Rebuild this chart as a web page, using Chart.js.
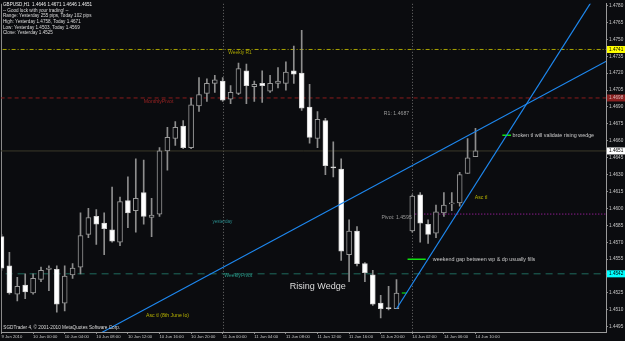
<!DOCTYPE html>
<html>
<head>
<meta charset="utf-8">
<script src="https://cdn.jsdelivr.net/npm/chart.js@4.4.0/dist/chart.umd.min.js"></script>
<style>
  html, body { margin: 0; padding: 0; background: #0b0c0f; }
  #wrap { width: 625px; height: 341px; }
</style>
</head>
<body>
<div id="wrap"><canvas id="chart" width="625" height="341"></canvas></div>
<script>
// GBPUSD H1 bars, bar 0 = 9 Jun 2010 20:00
const opens  = [1.4575, 1.4549, 1.4524, 1.4532, 1.4525, 1.4537, 1.4546, 1.4546, 1.4516, 1.4541,
                1.4548, 1.4577, 1.4593, 1.4587, 1.4581, 1.4570, 1.4607, 1.4598, 1.4614, 1.4592,
                1.4595, 1.4651, 1.4662, 1.4673, 1.4654, 1.4691, 1.4702, 1.4711, 1.4713, 1.4697,
                1.4702, 1.4722, 1.4708, 1.4711, 1.4704, 1.4711, 1.4711, 1.4722, 1.4720, 1.4690,
                1.4662, 1.4678, 1.4637, 1.4635, 1.4559, 1.4580, 1.4551, 1.4541, 1.4516, 1.4512,
                1.4511, 1.4525, 1.4580, 1.4612, 1.4586, 1.4578, 1.4596, 1.4604, 1.4605, 1.4631,
                1.4646];
const highs  = [1.4577, 1.4561, 1.4539, 1.4542, 1.4542, 1.4548, 1.4549, 1.4549, 1.4549, 1.4551,
                1.4596, 1.4600, 1.4599, 1.4596, 1.4619, 1.4610, 1.4628, 1.4644, 1.4643, 1.4609,
                1.4654, 1.4672, 1.4677, 1.4678, 1.4698, 1.4716, 1.4715, 1.4718, 1.4716, 1.4709,
                1.4729, 1.4728, 1.4713, 1.4722, 1.4718, 1.4725, 1.4730, 1.4744, 1.4758, 1.4710,
                1.4686, 1.4680, 1.4659, 1.4644, 1.4590, 1.4584, 1.4552, 1.4545, 1.4523, 1.4531,
                1.4537, 1.4525, 1.4612, 1.4614, 1.4590, 1.4603, 1.4614, 1.4614, 1.4632, 1.4662,
                1.4671];
const lows   = [1.4545, 1.4524, 1.4518, 1.4520, 1.4524, 1.4535, 1.4527, 1.4508, 1.4509, 1.4538,
                1.4542, 1.4574, 1.4568, 1.4559, 1.4570, 1.4567, 1.4583, 1.4579, 1.4586, 1.4575,
                1.4593, 1.4634, 1.4656, 1.4653, 1.4653, 1.4686, 1.4695, 1.4703, 1.4695, 1.4693,
                1.4701, 1.4693, 1.4695, 1.4694, 1.4703, 1.4707, 1.4705, 1.4711, 1.4687, 1.4658,
                1.4654, 1.4630, 1.4628, 1.4554, 1.4535, 1.4549, 1.4535, 1.4514, 1.4503, 1.4510,
                1.4511, 1.4525, 1.4579, 1.4570, 1.4569, 1.4574, 1.4593, 1.4598, 1.4602, 1.4631,
                1.4646];
const closes = [1.4547, 1.4525, 1.4531, 1.4526, 1.4538, 1.4545, 1.4547, 1.4515, 1.4540, 1.4547,
                1.4576, 1.4592, 1.4586, 1.4582, 1.4571, 1.4606, 1.4596, 1.4609, 1.4593, 1.4594,
                1.4651, 1.4663, 1.4672, 1.4654, 1.4692, 1.4701, 1.4711, 1.4714, 1.4696, 1.4703,
                1.4724, 1.4709, 1.4710, 1.4709, 1.4711, 1.4713, 1.4721, 1.4719, 1.4689, 1.4663,
                1.4679, 1.4638, 1.4636, 1.4562, 1.4580, 1.4551, 1.4543, 1.4515, 1.4511, 1.4511,
                1.4525, 1.4525, 1.4611, 1.4587, 1.4577, 1.4597, 1.4603, 1.4605, 1.4630, 1.4645,
                1.4651];

// axis ticks
const xTickBars   = [0, 4, 8, 12, 16, 20, 24, 28, 32, 36, 40, 44, 48, 52, 56, 60];
const xTickLabels = ['9 Jun 2010', '10 Jun 00:00', '10 Jun 04:00', '10 Jun 08:00', '10 Jun 12:00',
                     '10 Jun 16:00', '10 Jun 20:00', '11 Jun 00:00', '11 Jun 04:00', '11 Jun 08:00',
                     '11 Jun 12:00', '11 Jun 16:00', '11 Jun 20:00', '14 Jun 02:00', '14 Jun 06:00',
                     '14 Jun 10:00'];
const yTicks = [1.4495, 1.4510, 1.4525, 1.4540, 1.4555, 1.4570, 1.4585, 1.4600, 1.4615, 1.4630,
                1.4645, 1.4660, 1.4675, 1.4690, 1.4705, 1.4720, 1.4735, 1.4750, 1.4765, 1.4780];

// day separators (bar index)
const separators = [28, 52];

// horizontal levels: weekly R1, monthly pivot, bid, daily pivot, weekly pivot
const levelPrices = [1.4741, 1.4698, 1.4651, 1.4595, 1.4542];
const levelStart  = [-1, -1, -1, 52, -1];

// trend lines [bar, price]
const ascLong  = [[12.7, 1.4490], [78, 1.4736]];
const ascShort = [[50, 1.4511], [76, 1.4798]];

// short green marks [bar, price]
const markWedge = [[63.4, 1.4665], [64.5, 1.4665]];
const markGap   = [[51.4, 1.4555], [53.7, 1.4555]];

// chart notes [bar, price, text]
const notes = [
  [28.7, 1.4738, 'Weekly R1'],
  [18.0, 1.4695, 'MonthlyPivot'],
  [28.2, 1.4540, 'WeeklyPivot'],
  [26.7, 1.4588, 'yesterday'],
  [48.4, 1.4684, 'R1: 1.4687'],
  [48.1, 1.4592, 'Pivot: 1.4595'],
  [59.9, 1.4610, 'Asc tl'],
  [18.3, 1.4505, 'Asc tl (8th June lo)'],
  [64.7, 1.4665, 'broken tl will validate rising wedge'],
  [54.6, 1.4555, 'weekend gap between wp & dp usually fills'],
  [36.5, 1.4531, 'Rising Wedge']
];

const headerLines = [
  'GBPUSD,H1  1.4646 1.4671 1.4646 1.4651',
  '-- Good luck with your trading! --',
  'Range: Yesterday 255 pips, Today 102 pips',
  'High: Yesterday 1.4758, Today 1.4671',
  'Low: Yesterday 1.4503, Today 1.4569',
  'Close: Yesterday 1.4525'
];

const BG = '#0b0c0f';
const FONT = "'Liberation Sans', Arial, sans-serif";
const noteStyle = {
  'Weekly R1': ['#a8a400', 4.9],
  'MonthlyPivot': ['#9a2222', 5.2],
  'WeeklyPivot': ['#2a9a8a', 5.1],
  'yesterday': ['#2a8c8c', 4.6],
  'R1: 1.4687': ['#9a9a9a', 5.2],
  'Pivot: 1.4595': ['#9a9a9a', 5.2],
  'Asc tl': ['#b8b400', 5.2],
  'Asc tl (8th June lo)': ['#b8b400', 5.2],
  'broken tl will validate rising wedge': ['#c8c8c8', 5.4],
  'weekend gap between wp & dp usually fills': ['#c8c8c8', 5.4],
  'Rising Wedge': ['#dcdcdc', 9]
};
const levelStyle = [
  { color: '#a8a400', dash: [4, 2, 1, 2], box: '#ffff00', text: '#000000' },
  { color: '#8a1c1c', dash: [4, 3], box: '#8a2020', text: '#d8b8b8' },
  { color: '#3c3a2a', dash: [], box: '#ffffff', text: '#000000' },
  { color: '#c020c0', dash: [1, 2], box: null },
  { color: '#1f6b5e', dash: [7, 5], box: '#00ffff', text: '#000000' }
];

const wickData = opens.map((o, i) => ({ x: i, y: [lows[i], highs[i]] }));
const bodyData = opens.map((o, i) => {
  const lo = Math.min(o, closes[i]), hi = Math.max(o, closes[i]);
  // a flat bar gets a hairline body so it stays visible
  return { x: i, y: lo === hi ? [lo - 0.00004, hi + 0.00004] : [lo, hi] };
});
const bodyFill = opens.map((o, i) => closes[i] < o ? '#ffffff' : (closes[i] > o ? BG : '#00e000'));
const bodyEdge = opens.map((o, i) => closes[i] < o ? '#d0d0d0' : (closes[i] > o ? '#9a9a9a' : '#00e000'));
const toPts = arr => arr.map(p => ({ x: p[0], y: p[1] }));

const datasets = [];
levelPrices.forEach((p, i) => {
  datasets.push({
    type: 'line', data: [{ x: levelStart[i], y: p }, { x: 80, y: p }],
    borderColor: levelStyle[i].color, borderWidth: 1, borderDash: levelStyle[i].dash,
    pointRadius: 0, order: 3
  });
});
datasets.push({
  type: 'bar', data: wickData, backgroundColor: '#8e8e8e', borderWidth: 0,
  barThickness: 1, grouped: false, order: 2
});
datasets.push({
  type: 'bar', data: bodyData, backgroundColor: bodyFill, borderColor: bodyEdge,
  borderWidth: 1, borderSkipped: false, barThickness: 5, grouped: false, order: 1
});
[ascLong, ascShort].forEach(t => datasets.push({
  type: 'line', data: toPts(t), borderColor: '#1e88f0', borderWidth: 1.2, pointRadius: 0, order: 0
}));
[markWedge, markGap].forEach(t => datasets.push({
  type: 'line', data: toPts(t), borderColor: '#10e010', borderWidth: 1.5, pointRadius: 0, order: 0
}));

const decor = {
  id: 'decor',
  beforeDraw(chart) {
    const ctx = chart.ctx;
    ctx.save();
    ctx.fillStyle = BG;
    ctx.fillRect(0, 0, chart.width, chart.height);
    ctx.restore();
  },
  beforeDatasetsDraw(chart) {
    const { ctx, chartArea: a, scales: { x } } = chart;
    ctx.save();
    ctx.strokeStyle = '#6c6c6c';
    ctx.lineWidth = 1;
    ctx.setLineDash([1, 2]);
    separators.forEach(b => {
      const px = Math.round(x.getPixelForValue(b)) + 0.5;
      ctx.beginPath(); ctx.moveTo(px, a.top); ctx.lineTo(px, a.bottom); ctx.stroke();
    });
    ctx.setLineDash([]);
    ctx.strokeStyle = '#8a8a8a';
    ctx.beginPath(); ctx.moveTo(a.left + 0.5, a.top); ctx.lineTo(a.left + 0.5, a.bottom); ctx.stroke();
    ctx.restore();
  },
  afterDatasetsDraw(chart) {
    const { ctx, scales: { x, y } } = chart;
    ctx.save();
    ctx.textBaseline = 'middle';
    ctx.textAlign = 'left';
    notes.forEach(n => {
      const st = noteStyle[n[2]];
      ctx.fillStyle = st[0];
      ctx.font = st[1] + 'px ' + FONT;
      ctx.fillText(n[2], x.getPixelForValue(n[0]), y.getPixelForValue(n[1]));
    });
    ctx.restore();
  },
  afterDraw(chart) {
    const { ctx, chartArea: a, scales: { y } } = chart;
    ctx.save();
    ctx.textBaseline = 'middle';
    ctx.textAlign = 'left';
    // price boxes on the right axis
    ctx.font = '4.7px ' + FONT;
    levelPrices.forEach((p, i) => {
      const st = levelStyle[i];
      if (!st.box) return;
      const py = y.getPixelForValue(p);
      ctx.fillStyle = st.box;
      ctx.fillRect(a.right + 1, py - 3.5, chart.width - a.right - 1, 7);
      ctx.fillStyle = st.text;
      ctx.fillText(p.toFixed(4), a.right + 3, py);
    });
    // comment block
    ctx.font = '4.6px ' + FONT;
    headerLines.forEach((t, i) => {
      ctx.fillStyle = i === 0 ? '#f0f0f0' : '#dcdcdc';
      ctx.fillText(t, 3, 4.8 + i * 5.65);
    });
    ctx.font = '4.7px ' + FONT;
    ctx.fillStyle = '#dcdcdc';
    ctx.fillText('SGDTrader 4, \u00a9 2001-2010 MetaQuotes Software Corp.', 3.3, 328);
    ctx.restore();
  }
};

new Chart(document.getElementById('chart'), {
  type: 'bar',
  data: { datasets },
  options: {
    responsive: false,
    animation: false,
    devicePixelRatio: 1,
    layout: { padding: { left: 1, right: 0, top: 0, bottom: 0 } },
    plugins: { legend: { display: false }, tooltip: { enabled: false } },
    scales: {
      x: {
        type: 'linear', min: -0.063, max: 76.52, offset: false,
        afterBuildTicks: s => { s.ticks = xTickBars.map(v => ({ value: v })); },
        afterFit: s => { s.height = 9; },
        grid: { drawOnChartArea: false, tickLength: 2, color: '#8a8a8a', offset: false },
        border: { color: '#9a9a9a' },
        ticks: {
          color: '#c8c8c8', font: { family: FONT, size: 4.2 }, padding: 0, align: 'start',
          maxRotation: 0, autoSkip: false, callback: (v, i) => xTickLabels[i]
        }
      },
      y: {
        type: 'linear', position: 'right', min: 1.44904, max: 1.47815,
        afterBuildTicks: s => { s.ticks = yTicks.map(v => ({ value: v })); },
        afterFit: s => { s.width = 19; },
        grid: { drawOnChartArea: false, tickLength: 2, color: '#8a8a8a' },
        border: { color: '#9a9a9a' },
        ticks: {
          color: '#c8c8c8', font: { family: FONT, size: 4.7 }, padding: 1,
          autoSkip: false, callback: v => v.toFixed(4)
        }
      }
    }
  },
  plugins: [decor]
});
</script>
</body>
</html>
